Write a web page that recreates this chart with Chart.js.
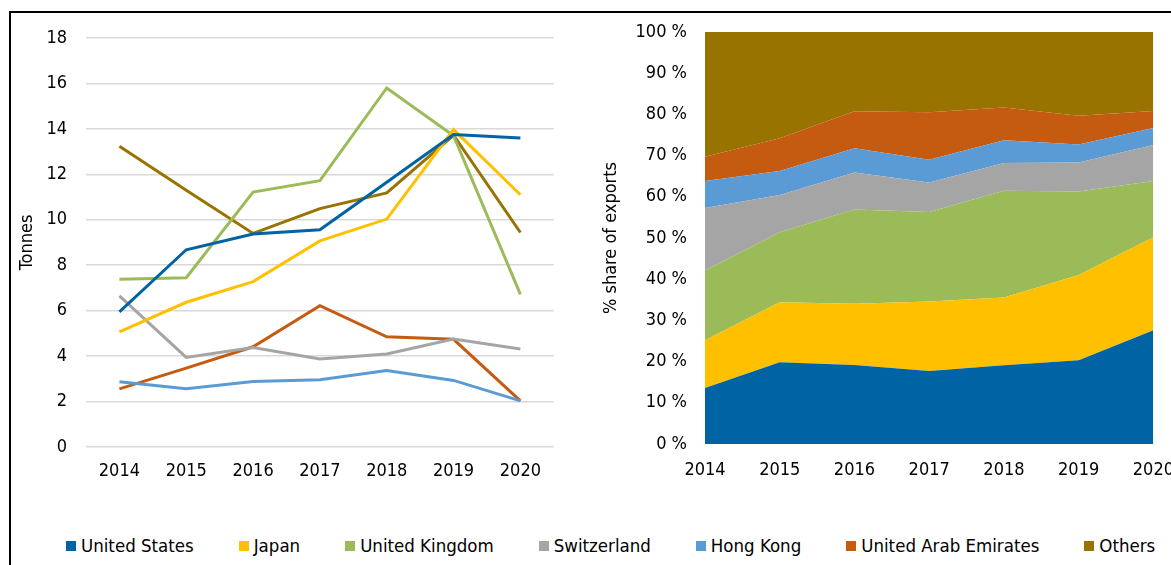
<!DOCTYPE html>
<html>
<head>
<meta charset="utf-8">
<script src="https://cdn.jsdelivr.net/npm/chart.js@4"></script>
<style>
html, body { margin: 0; padding: 0; background: #fff; width: 1171px; height: 565px; overflow: hidden; }
#frame { position: absolute; left: 9px; top: 11px; width: 1200px; height: 600px; border-left: 2px solid #000; border-top: 2px solid #000; }
#leftBox { position: absolute; left: 10px; top: 14px; width: 545px; height: 475px; }
#rightBox { position: absolute; left: 590px; top: 14px; width: 600px; height: 472px; }
#legend { position: absolute; left: 66px; top: 535px; display: flex; font-family: 'DejaVu Sans Condensed', 'DejaVu Sans', sans-serif; font-size: 18.5px; line-height: 22px; color: #000; white-space: nowrap; }
#legend span.item { display: flex; align-items: center; margin-right: 45px; }
#legend span.box { display: inline-block; width: 10px; height: 10px; margin-right: 5px; }
</style>
</head>
<body>
<div id="frame"></div>
<div id="leftBox"><canvas id="chartTonnes"></canvas></div>
<div id="rightBox"><canvas id="chartShare"></canvas></div>
<div id="legend"></div>
<script>
// data (tonnes)
const years = ['2014', '2015', '2016', '2017', '2018', '2019', '2020'];
const unitedStates = [5.95, 8.68, 9.37, 9.56, 11.65, 13.75, 13.6];
const japan = [5.07, 6.37, 7.28, 9.07, 10.03, 13.97, 11.1];
const unitedKingdom = [7.38, 7.45, 11.22, 11.72, 15.8, 13.7, 6.72];
const switzerland = [6.65, 3.94, 4.38, 3.87, 4.09, 4.75, 4.31];
const hongKong = [2.87, 2.56, 2.88, 2.96, 3.37, 2.93, 2.03];
const uae = [2.56, 3.47, 4.41, 6.22, 4.85, 4.74, 2.03];
const others = [13.24, 11.3, 9.4, 10.49, 11.18, 13.72, 9.44];

const seriesNames = ['United States', 'Japan', 'United Kingdom', 'Switzerland', 'Hong Kong', 'United Arab Emirates', 'Others'];
const seriesColors = ['#0063a3', '#ffc000', '#9bbb59', '#a5a5a5', '#5b9bd5', '#c55a11', '#997300'];
const seriesData = [unitedStates, japan, unitedKingdom, switzerland, hongKong, uae, others];

Chart.defaults.font.family = "'DejaVu Sans Condensed', 'DejaVu Sans'";
Chart.defaults.font.size = 18;
Chart.defaults.color = '#000';

// share of exports per year, in %
const totals = years.map((y, i) => seriesData.reduce((s, arr) => s + arr[i], 0));
const shares = seriesData.map(arr => arr.map((v, i) => v / totals[i] * 100));

// Left: tonnes per destination
new Chart(document.getElementById('chartTonnes'), {
    type: 'line',
    data: {
        labels: years,
        datasets: seriesNames.map((name, k) => ({
            label: name,
            data: seriesData[k],
            borderColor: seriesColors[k],
            backgroundColor: seriesColors[k],
            borderWidth: 3,
            pointRadius: 0,
            tension: 0,
            fill: false
        }))
    },
    options: {
        responsive: true,
        maintainAspectRatio: false,
        animation: false,
        layout: { padding: { top: 24, right: 0, bottom: 0, left: 0 } },
        plugins: { legend: { display: false }, tooltip: { enabled: false } },
        scales: {
            x: {
                offset: true,
                grid: { display: false, drawTicks: false },
                border: { display: false },
                ticks: { padding: 14, maxRotation: 0 },
                afterFit: s => { s.height = 42; }
            },
            y: {
                min: 0, max: 18,
                ticks: { stepSize: 2, padding: 3 },
                grid: { color: '#d9d9d9', lineWidth: 1.5, drawTicks: true, tickLength: 16, tickColor: 'rgba(0,0,0,0)' },
                border: { display: false },
                title: { display: true, text: 'Tonnes', padding: { top: 7 } },
                afterFit: s => { s.width = 76; }
            }
        }
    }
});

// Right: 100% stacked area
new Chart(document.getElementById('chartShare'), {
    type: 'line',
    data: {
        labels: years,
        datasets: seriesNames.map((name, k) => ({
            label: name,
            data: shares[k],
            borderWidth: 0,
            borderColor: seriesColors[k],
            backgroundColor: seriesColors[k],
            pointRadius: 0,
            tension: 0,
            fill: k === 0 ? 'origin' : '-1'
        }))
    },
    options: {
        responsive: true,
        maintainAspectRatio: false,
        animation: false,
        layout: { padding: { top: 18, right: 35, bottom: 0, left: 0 } },
        plugins: { legend: { display: false }, tooltip: { enabled: false } },
        scales: {
            x: {
                offset: false,
                grid: { display: false, drawTicks: false },
                border: { display: false },
                ticks: { padding: 16, maxRotation: 0 },
                afterFit: s => { s.height = 42; }
            },
            y: {
                stacked: true,
                min: 0, max: 100,
                ticks: { stepSize: 10, padding: 3, callback: v => v + ' %' },
                grid: { display: false, drawTicks: true, tickLength: 15 },
                border: { display: false },
                title: { display: true, text: '% share of exports', padding: { top: 11 } },
                afterFit: s => { s.width = 115; }
            }
        }
    }
});

// shared legend
const legend = document.getElementById('legend');
seriesNames.forEach((name, k) => {
    const item = document.createElement('span');
    item.className = 'item';
    const box = document.createElement('span');
    box.className = 'box';
    box.style.background = seriesColors[k];
    item.appendChild(box);
    item.appendChild(document.createTextNode(name));
    legend.appendChild(item);
});
</script>
</body>
</html>
